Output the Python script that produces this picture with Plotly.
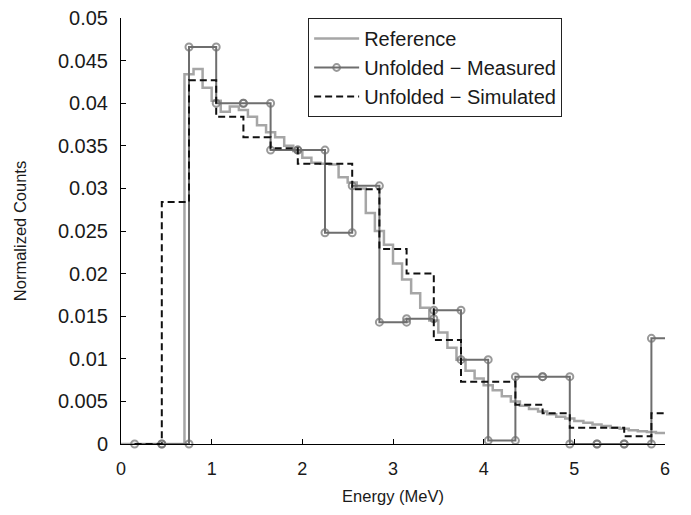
import plotly.graph_objects as go

# ---------------- data ----------------
# Reference spectrum (light grey, fine bins)
ref_edges = [0.0, 0.7, 0.8, 0.9, 1.0, 1.1, 1.2, 1.3, 1.4, 1.5, 1.6, 1.7, 1.8, 1.9,
             2.0, 2.1, 2.2, 2.3, 2.4, 2.5, 2.6, 2.7, 2.8, 2.9, 3.0, 3.1, 3.2, 3.3,
             3.4, 3.5, 3.6, 3.7, 3.8, 3.9, 4.0, 4.1, 4.2, 4.3, 4.4, 4.5, 4.6, 4.7,
             4.8, 4.9, 5.0, 5.1, 5.2, 5.3, 5.4, 5.5, 5.6, 5.7, 5.8, 5.9, 6.0]
ref_values = [0.0, 0.0434, 0.0440, 0.0418, 0.0403, 0.0390, 0.0396, 0.0392, 0.0384,
              0.0374, 0.0366, 0.0360, 0.0350, 0.0344, 0.0336, 0.0330, 0.0329,
              0.0328, 0.0313, 0.0307, 0.0300, 0.0271, 0.0250, 0.0234, 0.0212,
              0.0193, 0.0177, 0.0160, 0.0145, 0.0131, 0.0113, 0.0099, 0.0086,
              0.0077, 0.0069, 0.0063, 0.0056, 0.0050, 0.0045, 0.0041, 0.0038,
              0.0035, 0.0032, 0.0030, 0.0027, 0.0025, 0.0023, 0.0021, 0.0019,
              0.0018, 0.0016, 0.0015, 0.0014, 0.0013]

# Unfolded spectra (coarse bins)
unf_edges = [0.15, 0.45, 0.75, 1.05, 1.35, 1.65, 1.95, 2.25, 2.55, 2.85, 3.15,
             3.45, 3.75, 4.05, 4.35, 4.65, 4.95, 5.25, 5.55, 5.85, 6.15]
measured_values = [0.0, 0.0, 0.0466, 0.0400, 0.0400, 0.0345, 0.0345, 0.0248,
                   0.0303, 0.0143, 0.0147, 0.0157, 0.0099, 0.0004, 0.0079,
                   0.0079, 0.0, 0.0, 0.0, 0.0124]
simulated_values = [0.0, 0.0284, 0.0427, 0.0384, 0.0360, 0.0347, 0.0329, 0.0329,
                    0.0299, 0.0229, 0.0200, 0.0122, 0.0073, 0.0073, 0.0046,
                    0.0036, 0.0019, 0.0019, 0.0009, 0.0036]

x_ticks = [0, 1, 2, 3, 4, 5, 6]
y_ticks = [0, 0.005, 0.01, 0.015, 0.02, 0.025, 0.03, 0.035, 0.04, 0.045, 0.05]
y_tick_labels = ["0", "0.005", "0.01", "0.015", "0.02", "0.025", "0.03",
                 "0.035", "0.04", "0.045", "0.05"]

X_RANGE = [0, 6]
Y_RANGE = [0, 0.05]


def steps(edges, values):
    xs, ys = [], []
    for i, v in enumerate(values):
        xs += [edges[i], edges[i + 1]]
        ys += [v, v]
    return xs, ys


FONT = "Arial, 'Liberation Sans', sans-serif"

fig = go.Figure()

rx, ry = steps(ref_edges, ref_values)
fig.add_trace(go.Scatter(x=rx, y=ry, mode="lines", name="Reference",
                         line=dict(color="#a6a6a6", width=2.5)))

mx, my = steps(unf_edges, measured_values)
msize = [7 if X_RANGE[0] <= x <= X_RANGE[1] else 0 for x in mx]
fig.add_trace(go.Scatter(x=mx, y=my, mode="lines+markers",
                         name="Unfolded \u2212 Measured",
                         line=dict(color="#6e6e6e", width=2),
                         marker=dict(symbol="circle-open", size=msize,
                                     color="#6e6e6e", line=dict(width=2)),
                         cliponaxis=False))

sx, sy = steps(unf_edges, simulated_values)
fig.add_trace(go.Scatter(x=sx, y=sy, mode="lines",
                         name="Unfolded \u2212 Simulated",
                         line=dict(color="#111111", width=2, dash="7px,4px")))

fig.update_layout(
    width=691, height=515, autosize=False,
    margin=dict(l=113, r=34, t=10, b=79),
    paper_bgcolor="white", plot_bgcolor="white",
    font=dict(family=FONT, color="#1a1a1a"),
    showlegend=True,
    legend=dict(x=0.344, y=1.0, xanchor="left", yanchor="top",
                bgcolor="white", bordercolor="#222222", borderwidth=1,
                font=dict(size=20, family=FONT, color="#1a1a1a"),
                itemwidth=45, tracegroupgap=0),
    xaxis=dict(range=X_RANGE, tickvals=x_ticks, ticks="inside", ticklen=5,
               tickcolor="black", showline=True, linecolor="black", linewidth=1,
               showgrid=False, zeroline=False, automargin=False,
               ticklabeloverflow="allow",
               tickfont=dict(size=18, family=FONT),
               ticklabelstandoff=8,
               title=dict(text="Energy (MeV)", font=dict(size=16.5, family=FONT),
                          standoff=12)),
    yaxis=dict(range=Y_RANGE, tickvals=y_ticks, ticktext=y_tick_labels,
               ticks="inside", ticklen=5, tickcolor="black", showline=True,
               linecolor="black", linewidth=1, showgrid=False, zeroline=False,
               automargin=False, ticklabeloverflow="allow",
               tickfont=dict(size=20, family=FONT),
               ticklabelstandoff=8,
               title=dict(text="Normalized Counts", font=dict(size=16.5, family=FONT),
                          standoff=27)),
)

fig.write_html("out.html")
